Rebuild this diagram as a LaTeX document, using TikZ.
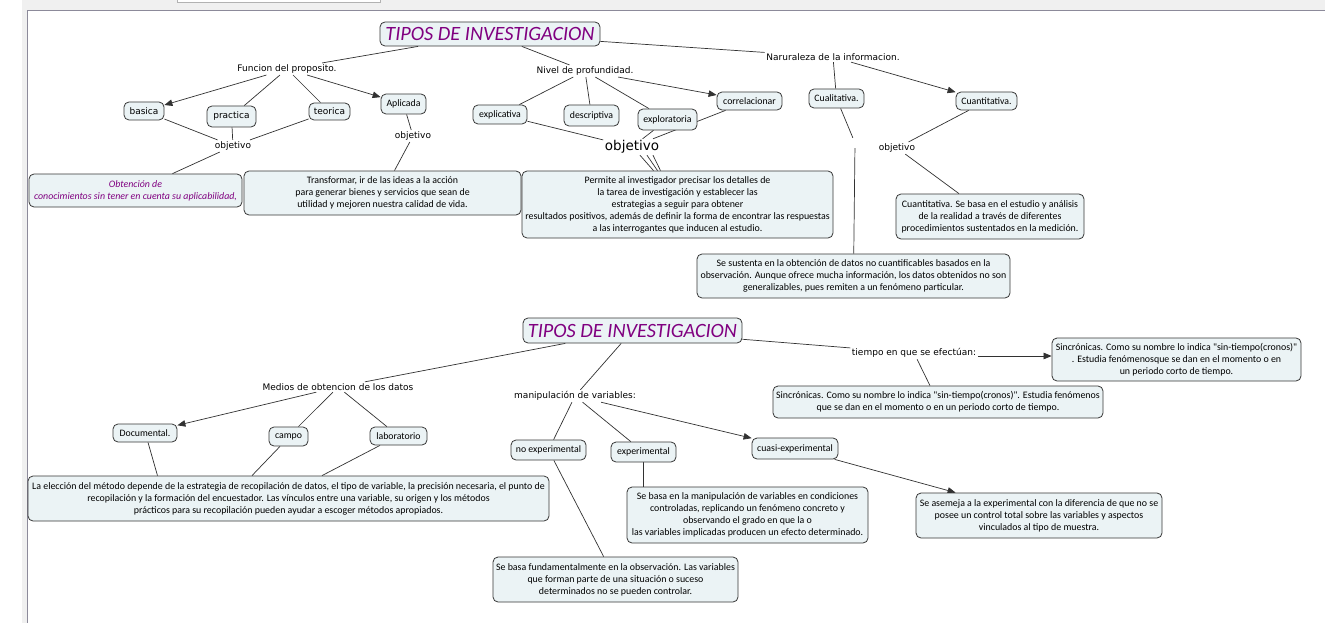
\documentclass[tikz,border=0pt]{standalone}
\usepackage{fontspec}
\setmainfont{DejaVu Sans}
\newfontfamily\boxfont{Carlito}
\usetikzlibrary{arrows.meta}
\pgfdeclarelayer{canvas}
\pgfdeclarelayer{edges}
\pgfsetlayers{canvas,edges,main}
\definecolor{boxfill}{RGB}{235,243,245}
\definecolor{boxline}{RGB}{55,55,55}
\definecolor{edgegray}{RGB}{50,50,50}
\definecolor{titlepurple}{RGB}{128,0,128}
\definecolor{framegray}{RGB}{240,240,240}
\definecolor{frameline}{RGB}{140,138,154}

\begin{document}
\begin{tikzpicture}[x=1pt,y=-1pt]
\tikzstyle{concept box} = [draw=boxline, fill=boxfill, rounded corners=5pt, inner sep=1pt, align=center, line width=0.8pt]
\tikzstyle{small box} = [concept box, font=\boxfont\fontsize{9.8}{11}\selectfont]
\tikzstyle{word box} = [concept box, font=\fontsize{9}{11}\selectfont]
\tikzstyle{text box} = [concept box, font=\boxfont\fontsize{9.9}{12}\selectfont]
\tikzstyle{title box} = [concept box, font=\boxfont\itshape\fontsize{20.3}{24}\selectfont, text=titlepurple]
\tikzstyle{link label} = [inner sep=1.5pt, font=\fontsize{9}{11}\selectfont]
\tikzstyle{plain edge} = [draw, color=edgegray, line width=0.7pt]
\tikzstyle{arrow edge} = [plain edge, -{Triangle[length=8pt,width=6.5pt]}]
\useasboundingbox (0,0) rectangle (1325,623);
\begin{pgfonlayer}{canvas}
\fill[white] (0,0) rectangle (1325,623);
\fill[framegray] (22,0) rectangle (1325,10);
\fill[framegray] (22,0) rectangle (27,623);
\draw[frameline] (27.5,623) -- (27.5,10.5) -- (1325,10.5);
\draw[gray!60, fill=white] (177,-3) rectangle (380,2);
\end{pgfonlayer}
% first map
\node[title box, minimum width=220, minimum height=24] (t_1) at (490,34) {TIPOS DE INVESTIGACION};
\node[link label] (l_funcion) at (287,69) {Funcion del proposito.};
\node[word box, minimum width=40, minimum height=18] (b_basica) at (144,111) {basica};
\node[word box, minimum width=49, minimum height=21] (b_practica) at (231.5,116.5) {practica};
\node[word box, minimum width=41, minimum height=17] (b_teorica) at (329.5,111.5) {teorica};
\node[small box, minimum width=45, minimum height=20] (b_aplicada) at (403.5,104) {Aplicada};
\node[link label] (l_obj_1) at (233,146) {objetivo};
\node[link label] (l_obj_2) at (413,136) {objetivo};
\node[text box, text=titlepurple, font=\boxfont\itshape\fontsize{9.9}{12}\selectfont, minimum width=213, minimum height=33] (b_obtencion) at (135.5,190.5) {Obtención de\\conocimientos sin tener en cuenta su aplicabilidad,};
\node[text box, minimum width=277, minimum height=44] (b_transformar) at (382.5,193) {Transformar, ir de las ideas a la acción\\para generar bienes y servicios que sean de\\utilidad y mejoren nuestra calidad de vida.};
\node[link label] (l_nivel) at (585,71) {Nivel de profundidad.};
\node[small box, minimum width=54, minimum height=19] (b_explicativa) at (500,114.5) {explicativa};
\node[small box, minimum width=55, minimum height=21] (b_descriptiva) at (591.5,115.5) {descriptiva};
\node[small box, minimum width=59, minimum height=21] (b_exploratoria) at (667.5,119.5) {exploratoria};
\node[small box, minimum width=65, minimum height=18] (b_correlacionar) at (749.5,101) {correlacionar};
\node[link label, font=\fontsize{13.5}{16}\selectfont] (l_obj_big) at (632,147) {objetivo};
\node[text box, minimum width=311, minimum height=67] (b_permite) at (677.5,204.5) {Permite al investigador precisar los detalles de\\la tarea de investigación y establecer las\\estrategias a seguir para obtener\\resultados positivos, además de definir la forma de encontrar las respuestas\\a las interrogantes que inducen al estudio.};
\node[link label] (l_naturaleza) at (833,57) {Naruraleza de la informacion.};
\node[small box, minimum width=55, minimum height=19] (b_cualitativa) at (836.5,98.5) {Cualitativa.};
\node[small box, minimum width=61, minimum height=18] (b_cuantitativa) at (986.5,101) {Cuantitativa.};
\node[inner sep=0pt, minimum size=10] (l_empty) at (855,143) {};
\node[link label] (l_obj_3) at (897,148) {objetivo};
\node[text box, minimum width=188, minimum height=45] (b_medicion) at (990,216.5) {Cuantitativa. Se basa en el estudio y análisis\\de la realidad a través de diferentes\\procedimientos sustentados en la medición.};
\node[text box, minimum width=313, minimum height=44] (b_sustenta) at (853.5,276) {Se sustenta en la obtención de datos no cuantificables basados en la\\observación. Aunque ofrece mucha información, los datos obtenidos no son\\generalizables, pues remiten a un fenómeno particular.};
% second map
\node[title box, minimum width=219, minimum height=25] (t_2) at (632.5,330.5) {TIPOS DE INVESTIGACION};
\node[link label] (l_medios) at (338,387) {Medios de obtencion de los datos};
\node[small box, minimum width=64, minimum height=18] (b_documental) at (145,433) {Documental.};
\node[small box, minimum width=39, minimum height=19] (b_campo) at (288.5,436.5) {campo};
\node[small box, minimum width=57, minimum height=18] (b_laboratorio) at (398.5,436) {laboratorio};
\node[text box, minimum width=521, minimum height=45] (b_eleccion) at (288.5,498.5) {La elección del método depende de la estrategia de recopilación de datos, el tipo de variable, la precisión necesaria, el punto de\\recopilación y la formación del encuestador. Las vínculos entre una variable, su origen y los métodos\\prácticos para su recopilación pueden ayudar a escoger métodos apropiados.};
\node[link label] (l_manipulacion) at (575,396) {manipulación de variables:};
\node[small box, minimum width=75, minimum height=20] (b_noexp) at (548.5,450) {no experimental};
\node[small box, minimum width=65, minimum height=20] (b_exp) at (643.5,452) {experimental};
\node[small box, minimum width=86, minimum height=21] (b_cuasi) at (795,448.5) {cuasi-experimental};
\node[text box, minimum width=241, minimum height=56] (b_controladas) at (747.5,515) {Se basa en la manipulación de variables en condiciones\\controladas, replicando un fenómeno concreto y\\observando el grado en que la o\\las variables implicadas producen un efecto determinado.};
\node[text box, minimum width=245, minimum height=45] (b_observacion) at (615.5,579.5) {Se basa fundamentalmente en la observación. Las variables\\que forman parte de una situación o suceso\\determinados no se pueden controlar.};
\node[link label] (l_tiempo) at (914,353) {tiempo en que se efectúan:};
\node[text box, minimum width=249, minimum height=43] (b_sinc_1) at (1176.5,359.5) {Sincrónicas. Como su nombre lo indica "sin-tiempo(cronos)"\\. Estudia fenómenosque se dan en el momento o en\\un periodo corto de tiempo.};
\node[text box, minimum width=330, minimum height=32] (b_sinc_2) at (938,402) {Sincrónicas. Como su nombre lo indica "sin-tiempo(cronos)". Estudia fenómenos\\que se dan en el momento o en un periodo corto de tiempo.};
\node[text box, minimum width=246, minimum height=45] (b_muestra) at (1039,515.5) {Se asemeja a la experimental con la diferencia de que no se\\posee un control total sobre las variables y aspectos\\vinculados al tipo de muestra.};
\begin{pgfonlayer}{edges}
\path[plain edge] (t_1) -- (l_funcion);
\path[arrow edge] (l_funcion) -- (b_basica);
\path[plain edge] (l_funcion) -- (b_practica);
\path[plain edge] (l_funcion) -- (b_teorica);
\path[arrow edge] (l_funcion) -- (b_aplicada);
\path[plain edge] (b_basica) -- (l_obj_1);
\path[plain edge] (b_practica) -- (l_obj_1);
\path[plain edge] (b_teorica) -- (l_obj_1);
\path[plain edge] (l_obj_1) -- (b_obtencion);
\path[plain edge] (b_aplicada) -- (l_obj_2);
\path[plain edge] (l_obj_2) -- (b_transformar);
\path[plain edge] (t_1) -- (l_nivel);
\path[plain edge] (l_nivel) -- (b_explicativa);
\path[plain edge] (l_nivel) -- (b_descriptiva);
\path[plain edge] (l_nivel) -- (b_exploratoria);
\path[arrow edge] (l_nivel) -- (b_correlacionar);
\path[plain edge] (b_explicativa) -- (l_obj_big);
\path[plain edge] (b_exploratoria) -- (l_obj_big);
\path[plain edge] (b_correlacionar) -- (l_obj_big);
\path[plain edge] ([xshift=8pt]l_obj_big.south) -- ([xshift=-24pt]b_permite.north);
\path[plain edge] ([xshift=15pt]l_obj_big.south) -- ([xshift=-20pt]b_permite.north);
\path[plain edge] ([xshift=21pt]l_obj_big.south) -- ([xshift=-17pt]b_permite.north);
\path[plain edge] (t_1) -- (l_naturaleza);
\path[plain edge] (l_naturaleza) -- (b_cualitativa);
\path[arrow edge] (l_naturaleza) -- (b_cuantitativa);
\path[plain edge] (b_cualitativa) -- (l_empty);
\path[plain edge] (l_empty) -- (b_sustenta);
\path[plain edge] (b_cuantitativa) -- (l_obj_3);
\path[plain edge] (l_obj_3) -- (b_medicion);
\path[plain edge] (t_2) -- (l_medios);
\path[arrow edge] (l_medios) -- (b_documental);
\path[plain edge] (l_medios) -- (b_campo);
\path[plain edge] (l_medios) -- (b_laboratorio);
\path[plain edge] ([xshift=3pt]b_documental.south) -- ([xshift=-131pt]b_eleccion.north);
\path[plain edge] ([xshift=-8.5pt]b_campo.south) -- ([xshift=-36.5pt]b_eleccion.north);
\path[plain edge] ([xshift=-18.5pt]b_laboratorio.south) -- ([xshift=33.5pt]b_eleccion.north);
\path[plain edge] (t_2) -- (l_manipulacion);
\path[plain edge] (l_manipulacion) -- (b_noexp);
\path[plain edge] (l_manipulacion) -- (b_exp);
\path[arrow edge] (l_manipulacion) -- (b_cuasi);
\path[plain edge] (b_noexp) -- (b_observacion);
\path[plain edge] (b_exp.south) -- (b_exp.south |- b_controladas.north);
\path[plain edge] (t_2) -- (l_tiempo);
\path[arrow edge] ([yshift=-3pt]l_tiempo.east) -- ([yshift=-3pt]l_tiempo.east -| b_sinc_1.west);
\path[plain edge] (l_tiempo) -- (b_sinc_2);
\path[arrow edge] (b_cuasi) -- (b_muestra);
\end{pgfonlayer}
\end{tikzpicture}
\end{document}
